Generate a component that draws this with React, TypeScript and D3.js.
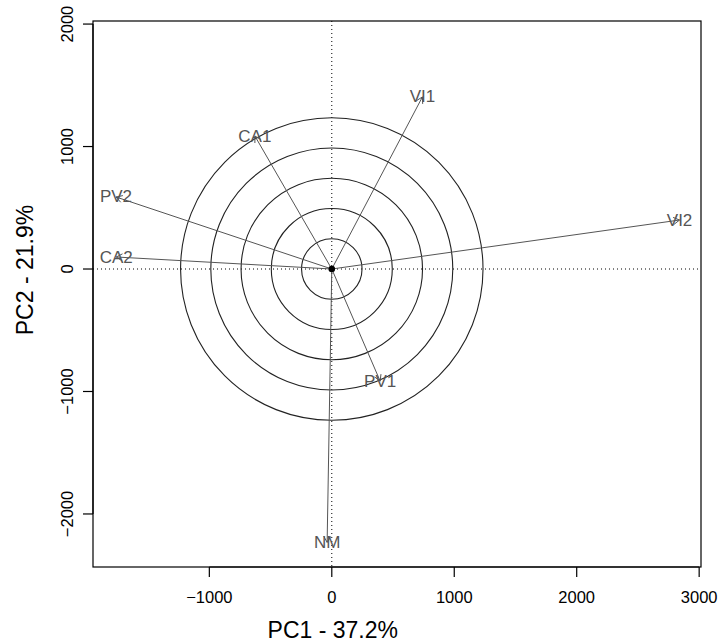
import React from "react";
import * as d3 from "d3";

// ---- data ----
const varNames = ["VI1", "CA1", "PV2", "CA2", "VI2", "PV1", "NM"];
const pc1Values = [740, -628, -1762, -1760, 2840, 395, -38];
const pc2Values = [1405, 1086, 588, 98, 400, -915, -2232];
const circleRadii = [247, 494, 741, 988, 1235];
const xTicks = [-1000, 0, 1000, 2000, 3000];
const yTicks = [-2000, -1000, 0, 1000, 2000];
const xTitle = "PC1 - 37.2%";
const yTitle = "PC2 - 21.9%";
const xDomain = [-1950, 3015];
const yDomain = [-2433, 2025];

const W = 719;
const H = 643;
const box = { left: 93, right: 701, top: 21, bottom: 567 };
const FONT = "'Liberation Sans', Arial, Helvetica, sans-serif";

export default function App() {
  const x = d3.scaleLinear().domain(xDomain).range([box.left, box.right]);
  const y = d3.scaleLinear().domain(yDomain).range([box.bottom, box.top]);
  const fmt = d3.format("d");
  const minus = (v: number) => fmt(v).replace("-", "\u2212");
  const pxPerUnit = x(1) - x(0);
  const cx = x(0);
  const cy = y(0);
  const headLen = 7;
  const headAng = Math.PI / 6;

  return (
    <svg
      width={W}
      height={H}
      style={{ position: "absolute", left: 0, top: 0, background: "#fff" }}
      fontFamily={FONT}
    >
      <rect x={0} y={0} width={W} height={H} fill="#fff" />
      {/* dotted reference lines */}
      <line x1={cx} x2={cx} y1={box.top} y2={box.bottom} stroke="#000" strokeWidth={1} strokeDasharray="1,3" />
      <line x1={box.left} x2={box.right} y1={cy} y2={cy} stroke="#000" strokeWidth={1} strokeDasharray="1,3" />
      {/* circles */}
      {circleRadii.map((r, i) => (
        <circle key={"c" + i} cx={cx} cy={cy} r={r * pxPerUnit} fill="none" stroke="#222" strokeWidth={1.1} />
      ))}
      {/* arrows */}
      {varNames.map((n, i) => {
        const tx = x(pc1Values[i]);
        const ty = y(pc2Values[i]);
        const a = Math.atan2(ty - cy, tx - cx);
        const h1x = tx - headLen * Math.cos(a - headAng);
        const h1y = ty - headLen * Math.sin(a - headAng);
        const h2x = tx - headLen * Math.cos(a + headAng);
        const h2y = ty - headLen * Math.sin(a + headAng);
        return (
          <g key={"a" + n} stroke="#555" strokeWidth={1} fill="none">
            <line x1={cx} y1={cy} x2={tx} y2={ty} />
            <polyline points={`${h1x},${h1y} ${tx},${ty} ${h2x},${h2y}`} />
          </g>
        );
      })}
      {/* labels */}
      {varNames.map((n, i) => (
        <text
          key={"l" + n}
          x={x(pc1Values[i])}
          y={y(pc2Values[i])}
          textAnchor="middle"
          dominantBaseline="central"
          fontSize={17}
          fill="#555"
        >
          {n}
        </text>
      ))}
      {/* center point */}
      <circle cx={cx} cy={cy} r={3.3} fill="#000" />
      {/* box */}
      <rect
        x={box.left}
        y={box.top}
        width={box.right - box.left}
        height={box.bottom - box.top}
        fill="none"
        stroke="#000"
        strokeWidth={1.2}
      />
      {/* x axis */}
      <line x1={x(xTicks[0])} x2={x(xTicks[xTicks.length - 1])} y1={box.bottom} y2={box.bottom} stroke="#000" strokeWidth={1.2} />
      {xTicks.map((t) => (
        <g key={"xt" + t}>
          <line x1={x(t)} x2={x(t)} y1={box.bottom} y2={box.bottom + 10} stroke="#000" strokeWidth={1.2} />
          <text x={x(t)} y={box.bottom + 30} textAnchor="middle" dominantBaseline="central" fontSize={16.5} fill="#000">
            {minus(t)}
          </text>
        </g>
      ))}
      {/* y axis */}
      <line x1={box.left} x2={box.left} y1={y(yTicks[0])} y2={y(yTicks[yTicks.length - 1])} stroke="#000" strokeWidth={1.2} />
      {yTicks.map((t) => (
        <g key={"yt" + t}>
          <line x1={box.left} x2={box.left - 10} y1={y(t)} y2={y(t)} stroke="#000" strokeWidth={1.2} />
          <text
            transform={`translate(${box.left - 26},${y(t)}) rotate(-90)`}
            textAnchor="middle"
            dominantBaseline="central"
            fontSize={16.5}
            fill="#000"
          >
            {minus(t)}
          </text>
        </g>
      ))}
      {/* titles */}
      <text x={cx + 1} y={630} textAnchor="middle" dominantBaseline="central" fontSize={23} fill="#000">
        {xTitle}
      </text>
      <text
        transform={`translate(25,${cy + 1}) rotate(-90)`}
        textAnchor="middle"
        dominantBaseline="central"
        fontSize={23}
        fill="#000"
      >
        {yTitle}
      </text>
    </svg>
  );
}
